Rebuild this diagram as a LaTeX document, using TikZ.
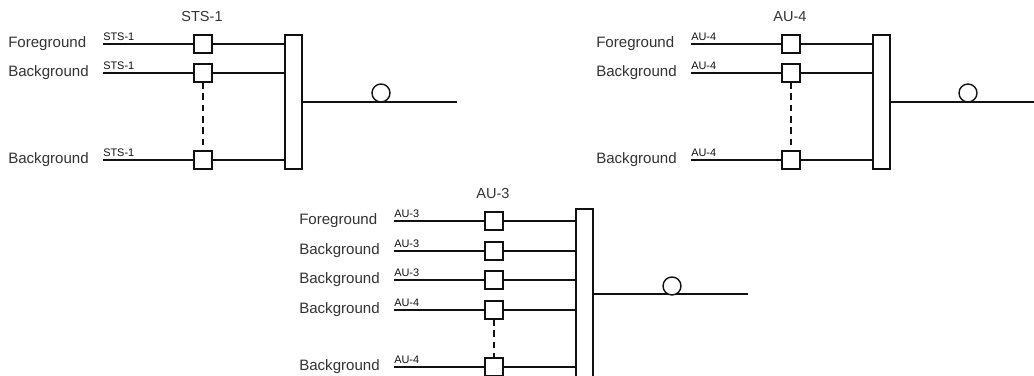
\documentclass[tikz,border=0pt]{standalone}
\usepackage{fontspec}
\setmainfont{Liberation Sans}
\definecolor{ink}{HTML}{111111}
\definecolor{txt}{HTML}{333333}
\tikzset{
  x=0.75pt,y=-0.75pt,
  wire/.style={draw=ink,line width=1.05pt},
  dashwire/.style={wire,dash pattern=on 5pt off 3.5pt},
  boxnode/.style={draw=ink,line width=1.05pt,fill=white,minimum width=13.5pt,minimum height=13.5pt,inner sep=0pt,outer sep=0pt},
  barnode/.style={draw=ink,line width=1.05pt,fill=white,minimum width=12.75pt,inner sep=0pt,outer sep=0pt},
  ringnode/.style={circle,draw=ink,line width=1.05pt,fill=white,minimum size=13.5pt,inner sep=0pt,outer sep=0pt},
  biglabel/.style={anchor=base west,inner sep=0pt,text=txt,font=\fontsize{11.3pt}{12pt}\selectfont},
  toplabel/.style={anchor=base,inner sep=0pt,text=txt,font=\fontsize{10.9pt}{12pt}\selectfont},
  smalllabel/.style={anchor=base west,inner sep=0pt,text=ink,font=\fontsize{8.2pt}{9pt}\selectfont},
}
% #1 prefix, #2 role label x, #3 wire start x, #4 box x, #5 wire y, #6 role, #7 signal, #8 bar name
\newcommand{\chanrow}[8]{%
  \node[biglabel] (#1role) at (#2,#5+3.5) {#6};
  \node[smalllabel] (#1sig) at (#3,#5-4) {#7};
  \coordinate (#1start) at (#3,#5);
  \node[boxnode] (#1box) at (#4,#5) {};
  \draw[wire] (#1start) -- (#1box.west);
  \draw[wire] (#1box.east) -- (#1box.east -| #8.west);
}
\begin{document}
\begin{tikzpicture}
\useasboundingbox (0,0) rectangle (1034,375);
\clip (0,0) rectangle (1034,375);
\fill[white] (0,0) rectangle (1034,375);

% STS-1
\node[toplabel] (ta) at (202,21.5) {STS-1};
\node[barnode,minimum height=100.5pt] (bara) at (293.5,102) {};
\chanrow{a1}{8}{103}{203}{44}{Foreground}{STS-1}{bara}
\chanrow{a2}{8}{103}{203}{73}{Background}{STS-1}{bara}
\chanrow{a3}{8}{103}{203}{160}{Background}{STS-1}{bara}
\draw[dashwire] (a2box.south) -- (a3box.north);
\coordinate (aend) at (457,102);
\draw[wire] (bara.east) -- (aend);
\node[ringnode] (ra) at (381,93) {};

% AU-4
\node[toplabel] (tb) at (790,21.5) {AU-4};
\node[barnode,minimum height=100.5pt] (barb) at (881.5,102) {};
\chanrow{b1}{596}{691}{791}{44}{Foreground}{AU-4}{barb}
\chanrow{b2}{596}{691}{791}{73}{Background}{AU-4}{barb}
\chanrow{b3}{596}{691}{791}{160}{Background}{AU-4}{barb}
\draw[dashwire] (b2box.south) -- (b3box.north);
\coordinate (bend) at (1036,102);
\draw[wire] (barb.east) -- (bend);
\node[ringnode] (rb) at (968,93) {};

% AU-3
\node[toplabel] (tc) at (493,198.5) {AU-3};
\node[barnode,minimum height=127.5pt] (barc) at (584.5,294) {};
\chanrow{c1}{299}{394}{494}{221}{Foreground}{AU-3}{barc}
\chanrow{c2}{299}{394}{494}{251}{Background}{AU-3}{barc}
\chanrow{c3}{299}{394}{494}{280}{Background}{AU-3}{barc}
\chanrow{c4}{299}{394}{494}{310}{Background}{AU-4}{barc}
\chanrow{c5}{299}{394}{494}{367}{Background}{AU-4}{barc}
\draw[dashwire] (c4box.south) -- (c5box.north);
\coordinate (cend) at (748,294);
\draw[wire] (barc.east) -- (cend);
\node[ringnode] (rc) at (672,286) {};
\end{tikzpicture}
\end{document}
